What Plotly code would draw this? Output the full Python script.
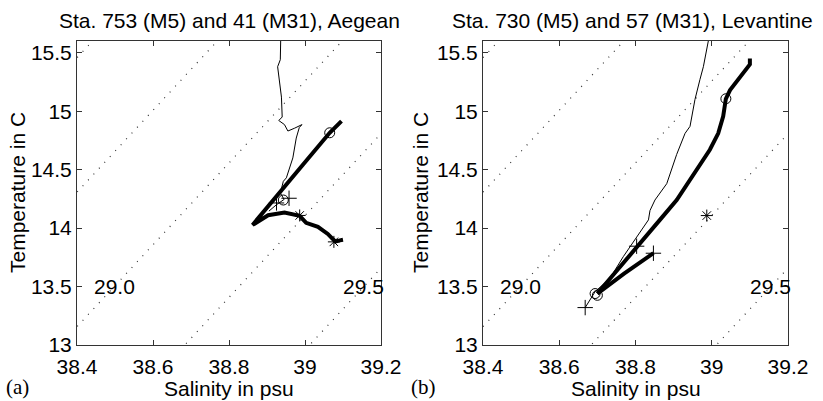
import numpy as np
import plotly.graph_objects as go

W, H = 823, 401

# ---- isopycnal levels (sigma-theta) and linearised equation of state ----
SIG_LEVELS = [28.5, 28.75, 29.0, 29.25, 29.5]
SIG_REF, S_REF, T_REF = 29.0, 38.4, 13.157
ALPHA, BETA = 0.2174, 0.761          # d(sigma)/dT, d(sigma)/dS
LABEL_LEVELS = [29.0, 29.5]
LABEL_TEXT = ["29.0", "29.5"]
LABEL_T = 13.5

# ---- axis ticks ----
S_TICKS = [38.4, 38.6, 38.8, 39.0, 39.2]
S_TICKTEXT = ["38.4", "38.6", "38.8", "39", "39.2"]
T_TICKS = [13, 13.5, 14, 14.5, 15, 15.5]
T_TICKTEXT = ["13", "13.5", "14", "14.5", "15", "15.5"]

# ---- (a) Aegean: Sta. 753 (M5, thin) and 41 (M31, thick) ----
a_m5_S = [38.936, 38.935, 38.928, 38.932, 38.938, 38.940, 38.931, 38.946, 38.955,
          38.973, 38.992, 38.985, 38.977, 38.968, 38.959, 38.951, 38.943, 38.935,
          38.945, 38.925, 38.905]
a_m5_T = [15.60, 15.44, 15.38, 15.26, 15.12, 14.95, 14.92, 14.885, 14.83,
          14.855, 14.885, 14.86, 14.77, 14.60, 14.515, 14.43, 14.40, 14.30,
          14.245, 14.20, 14.145]
a_m31_S = [39.096, 39.065, 38.990, 38.925, 38.862, 38.903, 38.946, 38.986,
           39.003, 39.034, 39.060, 39.072, 39.080, 39.092, 39.100]
a_m31_T = [14.915, 14.815, 14.525, 14.272, 14.027, 14.110, 14.133, 14.105,
           14.045, 14.010, 13.950, 13.910, 13.885, 13.895, 13.900]
a_circle_S, a_circle_T = [39.065, 38.943], [14.815, 14.240]
a_plus_S, a_plus_T = [38.958, 38.925], [14.255, 14.215]
a_star_S, a_star_T = [38.986, 39.076], [14.108, 13.882]

# ---- (b) Levantine: Sta. 730 (M5, thin) and 57 (M31, thick) ----
b_m5_S = [38.991, 38.978, 38.969, 38.956, 38.943, 38.930, 38.908, 38.882, 38.851,
          38.838, 38.834, 38.799, 38.768, 38.733, 38.694, 38.668]
b_m5_T = [15.60, 15.38, 15.27, 15.10, 14.87, 14.81, 14.63, 14.38, 14.24,
          14.15, 14.07, 13.90, 13.756, 13.57, 13.456, 13.32]
b_m31a_S = [39.100, 39.100, 39.048, 39.037, 39.030, 39.017, 38.995, 38.960, 38.925,
            38.908, 38.864, 38.803, 38.733, 38.700]
b_m31a_T = [15.45, 15.40, 15.18, 15.106, 14.955, 14.81, 14.67, 14.50, 14.33,
            14.24, 14.07, 13.84, 13.57, 13.44]
b_m31b_S = [38.700, 38.770, 38.847]
b_m31b_T = [13.440, 13.610, 13.785]
b_circle_S, b_circle_T = [39.037, 38.694, 38.700], [15.106, 13.440, 13.425]
b_plus_S, b_plus_T = [38.668, 38.847, 38.803], [13.320, 13.785, 13.845]
b_star_S, b_star_T = [38.987], [14.107]

FONT = "Liberation Sans, Arial, Helvetica, sans-serif"
SERIF = "Liberation Serif, Times New Roman, serif"
FS = 21

fig = go.Figure()


def isopycnal_T(level, s):
    return T_REF + (BETA * (s - S_REF) - (level - SIG_REF)) / ALPHA


def add_panel(xa, ya, lines, circles, pluses, stars):
    s_grid = np.array([38.2, 39.4])
    for lev in SIG_LEVELS:
        fig.add_trace(go.Scatter(x=s_grid, y=isopycnal_T(lev, s_grid), mode="lines",
                                 line=dict(color="#333", width=1.2, dash="1px,7px"),
                                 xaxis=xa, yaxis=ya, showlegend=False, hoverinfo="skip"))
    for (s, t, w) in lines:
        fig.add_trace(go.Scatter(x=s, y=t, mode="lines",
                                 line=dict(color="black", width=w),
                                 xaxis=xa, yaxis=ya, showlegend=False))
    for (s, t), sym, size in ((circles, "circle-open", 10),
                              (pluses, "cross-thin-open", 11),
                              (stars, "asterisk-open", 10)):
        fig.add_trace(go.Scatter(x=s, y=t, mode="markers",
                                 marker=dict(symbol=sym, size=size, color="black",
                                             line=dict(color="black", width=1)),
                                 xaxis=xa, yaxis=ya, showlegend=False))
    # contour labels
    for lev, txt in zip(LABEL_LEVELS, LABEL_TEXT):
        s_lab = S_REF + ((LABEL_T - T_REF) * ALPHA + (lev - SIG_REF)) / BETA
        fig.add_annotation(x=s_lab, y=LABEL_T, xref=xa, yref=ya, text=txt,
                           showarrow=False, font=dict(family=FONT, size=FS, color="black"),
                           xanchor="center", yanchor="middle")


add_panel("x", "y",
          [(a_m5_S, a_m5_T, 1), (a_m31_S, a_m31_T, 4)],
          (a_circle_S, a_circle_T), (a_plus_S, a_plus_T), (a_star_S, a_star_T))
add_panel("x2", "y2",
          [(b_m5_S, b_m5_T, 1), (b_m31a_S, b_m31a_T, 4), (b_m31b_S, b_m31b_T, 4)],
          (b_circle_S, b_circle_T), (b_plus_S, b_plus_T), (b_star_S, b_star_T))

x_dom = [[77 / W, 381 / W], [483 / W, 788 / W]]
y_dom = [1 - 345 / H, 1 - 41 / H]

axis_common = dict(showgrid=False, zeroline=False, showline=True, mirror="ticks",
                   linecolor="#333", linewidth=1, ticks="inside", ticklen=5,
                   tickcolor="#333", automargin=False,
                   tickfont=dict(family=FONT, size=FS, color="black"))

layout = dict(
    template="none",
    width=W, height=H, margin=dict(l=0, r=0, t=0, b=0, pad=0, autoexpand=False),
    paper_bgcolor="white", plot_bgcolor="white", showlegend=False,
)
for i, suffix in enumerate(["", "2"]):
    layout["xaxis" + suffix] = dict(domain=x_dom[i], range=[38.4, 39.2],
                                    tickvals=S_TICKS, ticktext=S_TICKTEXT,
                                    ticklabelstandoff=3,
                                    anchor="y" + suffix, **axis_common)
    layout["yaxis" + suffix] = dict(domain=y_dom, range=[13, 15.6],
                                    tickvals=T_TICKS, ticktext=T_TICKTEXT,
                                    anchor="x" + suffix, **axis_common)
fig.update_layout(**layout)

titles = [("Sta. 753 (M5) and 41 (M31), Aegean", 229),
          ("Sta. 730 (M5) and 57 (M31), Levantine", 632)]
for txt, cx in titles:
    fig.add_annotation(x=cx / W, y=1 - 21 / H, xref="paper", yref="paper", text=txt,
                       showarrow=False, xanchor="center", yanchor="middle",
                       font=dict(family=FONT, size=FS, color="black"))

for cx in (229, 636):
    fig.add_annotation(x=cx / W, y=1 - 388 / H, xref="paper", yref="paper",
                       text="Salinity in psu", showarrow=False,
                       xanchor="center", yanchor="middle",
                       font=dict(family=FONT, size=FS, color="black"))

for cx in (17, 420):
    fig.add_annotation(x=cx / W, y=1 - 193 / H, xref="paper", yref="paper",
                       text="Temperature in C", showarrow=False, textangle=-90,
                       xanchor="center", yanchor="middle",
                       font=dict(family=FONT, size=FS, color="black"))

for txt, cx in (("(a)", 17), ("(b)", 424)):
    fig.add_annotation(x=cx / W, y=1 - 387 / H, xref="paper", yref="paper",
                       text=txt, showarrow=False, xanchor="center", yanchor="middle",
                       font=dict(family=SERIF, size=FS, color="black"))

fig.write_html("out.html")
